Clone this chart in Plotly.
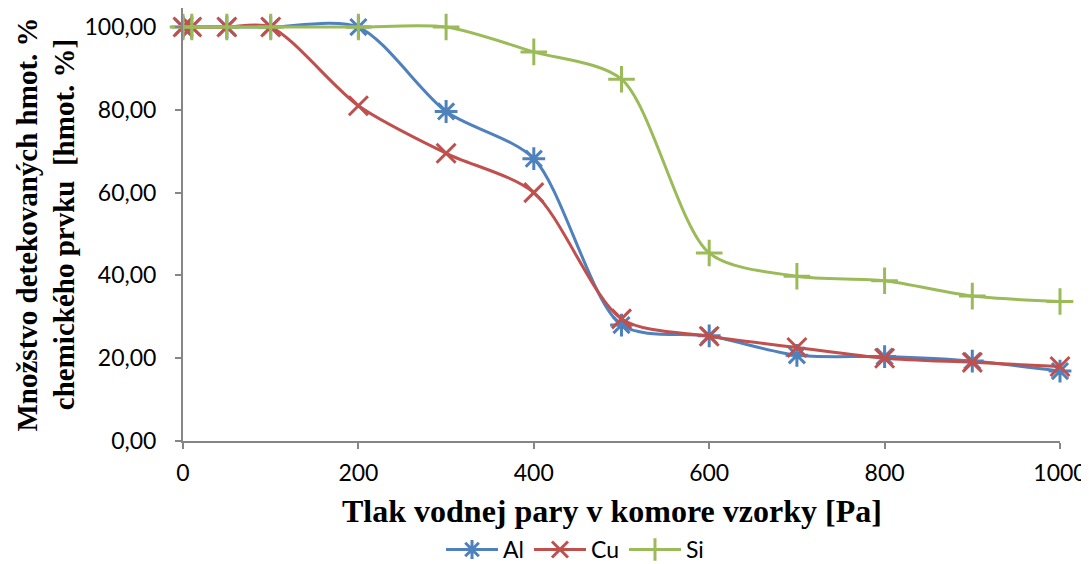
import plotly.graph_objects as go

pressure = [0, 10, 50, 100, 200, 300, 400, 500, 600, 700, 800, 900, 1000]
al = [100, 100, 100, 100, 100, 79.6, 68.2, 28.0, 25.4, 20.7, 20.4, 19.3, 16.9]
cu = [100, 100, 100, 100, 81.0, 69.5, 60.0, 29.5, 25.3, 22.6, 20.0, 19.0, 18.0]
si = [100, 100, 100, 100, 100, 100, 94.0, 87.4, 45.4, 39.8, 38.7, 35.0, 33.7]

series = [
    ("Al", al, "#4F81BD", "asterisk-open"),
    ("Cu", cu, "#C0504D", "x-thin-open"),
    ("Si", si, "#9BBB59", "cross-thin-open"),
]

fig = go.Figure()
for name, vals, color, symbol in series:
    fig.add_trace(go.Scatter(
        x=pressure, y=vals, name=name, mode="lines+markers",
        line=dict(color=color, width=3, shape="spline", smoothing=0.8),
        marker=dict(symbol=symbol, size=19, color=color,
                    line=dict(color=color, width=3)),
        cliponaxis=False,
    ))

sans = "Lato, Liberation Sans, sans-serif"
axis_font = dict(family=sans, size=23, color="#000000")
title_font = dict(family="Liberation Serif, Times New Roman, serif", size=32, color="#000000")
ytitle_font = dict(family="Liberation Serif, Times New Roman, serif", size=29, color="#000000")

# the page body adds an 8px offset, so the figure is a bit smaller than the window
fig.update_layout(
    width=1081, height=556,
    margin=dict(l=175, r=29, t=0, b=123, autoexpand=False),
    paper_bgcolor="white", plot_bgcolor="white",
    separators=", ",
    showlegend=True,
    legend=dict(orientation="h", x=0.447, xanchor="center",
                yref="container", y=0.026, yanchor="middle",
                font=dict(family=sans, size=23, color="#000000"),
                itemwidth=52, tracegroupgap=0),
)
fig.update_xaxes(
    range=[0, 1000], tickvals=[0, 200, 400, 600, 800, 1000],
    showline=True, linecolor="#868686", linewidth=2,
    ticks="outside", ticklen=6, tickcolor="#868686", tickwidth=2,
    showgrid=False, zeroline=False, tickfont=axis_font,
    ticklabelstandoff=4, automargin=False,
)
fig.update_yaxes(
    range=[0, 104.6], tickvals=[0, 20, 40, 60, 80, 100], tickformat=".2f",
    showline=True, linecolor="#868686", linewidth=2,
    ticks="outside", ticklen=6, tickcolor="#868686", tickwidth=2,
    showgrid=False, zeroline=False, tickfont=axis_font,
    ticklabelstandoff=14, automargin=False,
)

# axis titles placed as annotations so the margins stay fixed
fig.add_annotation(
    text="<b>Tlak vodnej pary v komore vzorky [Pa]</b>",
    xref="paper", yref="paper", x=0.489, y=0, yshift=-70,
    xanchor="center", yanchor="middle", showarrow=False, font=title_font,
)
fig.add_annotation(
    text="<b>Množstvo detekovaných hmot. %<br>chemického prvku  [hmot. %]</b>",
    xref="paper", yref="paper", x=0, y=0.5, xshift=-138, yshift=0,
    xanchor="center", yanchor="middle", textangle=-90, showarrow=False,
    font=ytitle_font,
)

fig.write_html("out.html")
